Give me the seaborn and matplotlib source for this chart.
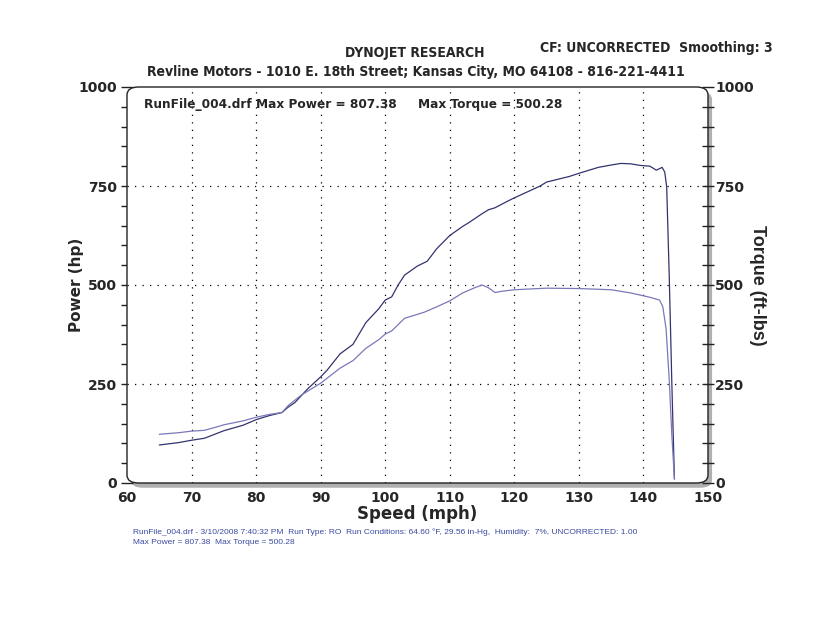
import numpy as np
import pandas as pd
import matplotlib
matplotlib.use("Agg")
import matplotlib.pyplot as plt
import seaborn as sns
from matplotlib.patches import FancyBboxPatch
from matplotlib.ticker import MultipleLocator

# speed (mph) and readings taken off the dyno sheet
speed_hp = [65, 68, 70, 72, 75, 78, 80, 82, 84, 85, 86, 88, 90, 91, 93, 95, 97, 99, 100, 101,
            102, 103, 105, 106.5, 108, 110, 112, 113, 115, 116, 117, 119, 120, 122, 124, 125,
            127, 128.5, 130, 132, 133, 135, 136.5, 138, 139.5, 141, 142, 142.9, 143.3, 143.6,
            144.0, 144.4, 144.8]
power = [96, 102, 108, 113, 132, 146, 160, 170, 178, 192, 203, 238, 268, 285, 326, 350, 405,
         440, 462, 470, 500, 525, 548, 560, 592, 625, 648, 658, 680, 690, 695, 712, 720, 735,
         750, 760, 768, 774, 782, 792, 797, 803, 807, 806, 802, 800, 790, 797, 785, 748, 520,
         250, 10]

speed_tq = [65, 68, 70, 72, 74, 75, 78, 80, 82, 84, 85, 87, 90, 93, 95, 97, 99, 100, 101, 103,
            106, 108, 110, 112, 114, 115, 116, 117, 118, 120, 125, 130, 135, 138, 141, 142.5,
            143.0, 143.5, 144.0, 144.4, 144.8]
torque = [123, 127, 131, 133, 142, 147, 157, 166, 173, 178, 196, 222, 252, 290, 309, 340, 362,
          376, 384, 416, 431, 445, 460, 480, 494, 500, 493, 481, 484, 488, 492, 491, 488, 480,
          469, 462, 445, 390, 260, 120, 10]

power_df = pd.DataFrame({"speed": speed_hp, "value": power})
torque_df = pd.DataFrame({"speed": speed_tq, "value": torque})

sns.set_style("white")
plt.rcParams["font.family"] = ["DejaVu Sans"]

fig = plt.figure(figsize=(8.25, 6.38), dpi=100)
ax = fig.add_axes([127 / 825, 1 - 483 / 638, 581 / 825, 396 / 638])
ax.set_facecolor("none")

sns.lineplot(data=power_df, x="speed", y="value", ax=ax, color="#33336e", linewidth=0.9, zorder=5)
sns.lineplot(data=torque_df, x="speed", y="value", ax=ax, color="#7a78b8", linewidth=0.9, zorder=5)

ax.set_xlim(60, 150)
ax.set_ylim(0, 1000)

# dotted grid
for x in range(70, 150, 10):
    ax.axvline(x, color="black", linestyle=(0, (1, 5)), linewidth=0.9, zorder=3)
for y in [250, 500, 750]:
    ax.axhline(y, color="black", linestyle=(0, (1, 5)), linewidth=0.9, zorder=3)

for s in ax.spines.values():
    s.set_visible(False)

# rounded frame with grey shadow on the bottom/right
shadow = FancyBboxPatch((0.007, -0.012), 1.0, 1.0, boxstyle="round,pad=0,rounding_size=0.02",
                        transform=ax.transAxes, facecolor="#b0b0b0", edgecolor="none",
                        clip_on=False, zorder=0)
ax.add_patch(shadow)
frame = FancyBboxPatch((0, 0), 1, 1, boxstyle="round,pad=0,rounding_size=0.02",
                       transform=ax.transAxes, facecolor="white", edgecolor="#222222",
                       linewidth=1.0, clip_on=False, zorder=1)
ax.add_patch(frame)

ax.xaxis.set_major_locator(MultipleLocator(10))
ax.xaxis.set_minor_locator(MultipleLocator(2))
ax.yaxis.set_major_locator(MultipleLocator(250))
ax.yaxis.set_minor_locator(MultipleLocator(50))
ax.tick_params(axis="both", which="both", direction="inout", color="#222222", width=1.0)
ax.tick_params(axis="x", which="both", length=8, labelsize=10, pad=2)
ax.tick_params(axis="y", which="both", length=8, labelsize=10, pad=3)
for lab in ax.get_xticklabels() + ax.get_yticklabels():
    lab.set_fontweight("bold")

ax.set_xlabel("Speed (mph)", fontsize=12, fontweight="bold", labelpad=0)
ax.set_ylabel("Power (hp)", fontsize=11, fontweight="bold", labelpad=-4)

ax2 = ax.twinx()
ax2.set_ylim(0, 1000)
for s in ax2.spines.values():
    s.set_visible(False)
ax2.yaxis.set_major_locator(MultipleLocator(250))
ax2.yaxis.set_minor_locator(MultipleLocator(50))
ax2.tick_params(axis="y", which="both", direction="inout", length=8, color="#222222",
                width=1.0, labelsize=10, pad=1)
for lab in ax2.get_yticklabels():
    lab.set_fontweight("bold")
ax2.set_ylabel("Torque (ft-lbs)", fontsize=13, fontweight="bold", rotation=270,
               va="bottom", labelpad=-3, family="Liberation Sans")

head = dict(fontweight="bold", fontstretch="condensed", fontsize=10)

ax.text(0.03, 0.972, "RunFile_004.drf Max Power = 807.38     Max Torque = 500.28",
        transform=ax.transAxes, va="top", ha="left",
        fontweight="bold", fontstretch="condensed", fontsize=9.7)

fig.text(415 / 825, 1 - 53 / 638, "DYNOJET RESEARCH", ha="center", va="center", **head)
fig.text(540 / 825, 1 - 48 / 638, "CF: UNCORRECTED  Smoothing: 3", ha="left", va="center",
         **head)
fig.text(416 / 825, 1 - 72 / 638,
         "Revline Motors - 1010 E. 18th Street; Kansas City, MO 64108 - 816-221-4411",
         ha="center", va="center", **head)

fig.text(133 / 825, 1 - 532 / 638,
         "RunFile_004.drf - 3/10/2008 7:40:32 PM  Run Type: RO  Run Conditions: 64.60 \u00b0F, "
         "29.56 in-Hg,  Humidity:  7%, UNCORRECTED: 1.00",
         ha="left", va="center", fontsize=6.0, color="#3a4aa0", family="Liberation Sans")
fig.text(133 / 825, 1 - 543 / 638, "Max Power = 807.38  Max Torque = 500.28",
         ha="left", va="center", fontsize=6.0, color="#3a4aa0", family="Liberation Sans")

fig.savefig("out.png", dpi=100, facecolor="white")
